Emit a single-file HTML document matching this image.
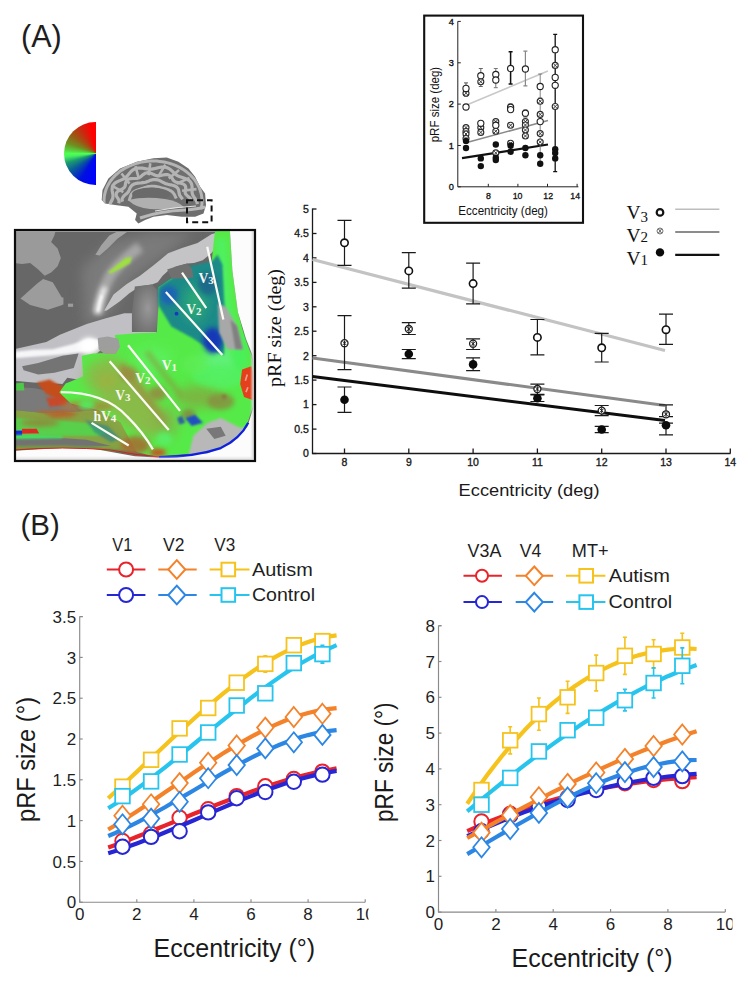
<!DOCTYPE html>
<html><head><meta charset="utf-8"><title>pRF figure</title>
<style>html,body{margin:0;padding:0;background:#fff;width:749px;height:985px;overflow:hidden;position:relative}svg{display:block} .s{font-family:"Liberation Sans",sans-serif} .r{font-family:"Liberation Serif",serif}</style>
</head><body>
<svg width="749" height="985" viewBox="0 0 749 985">
<rect width="749" height="985" fill="#fff"/>
<text x="21" y="47.4" class="s" font-size="30.6" fill="#1e1e1e">(A)</text>
<text x="20.4" y="535" class="s" font-size="29.5" fill="#1e1e1e">(B)</text>
<defs>
<clipPath id="fmclip"><rect x="0" y="0" width="749" height="721"/></clipPath>
<filter id="bl1" x="-30%" y="-30%" width="160%" height="160%"><feGaussianBlur stdDeviation="2.5"/></filter>
<filter id="bl2" x="-60%" y="-60%" width="220%" height="220%"><feGaussianBlur stdDeviation="8"/></filter>
<filter id="bl3" x="-100%" y="-100%" width="300%" height="300%"><feGaussianBlur stdDeviation="18"/></filter>
<radialGradient id="dpg" cx="0.6" cy="0.5" r="0.7"><stop offset="0" stop-color="#989898"/><stop offset="0.6" stop-color="#7a7a7a"/><stop offset="1" stop-color="#6a6a6a"/></radialGradient>
</defs>
<g transform="translate(14 229) scale(0.32310)" clip-path="url(#fmclip)">
<rect x="0" y="0" width="749" height="721" fill="#676767"/>
<path d="M210 120 L300 40 L420 10 L560 10 L470 80 L360 160 L300 260 L220 300 Z" fill="#7a7a7a" filter="url(#bl3)"/>
<path d="M0 0 L130 0 L125 20 L115 40 L135 60 L145 90 L135 115 L115 135 L95 145 L75 125 L50 105 L25 108 L0 105 Z" fill="#9a9a9a"/>
<path d="M20 215 L70 170 L90 155 L120 165 L150 215 L150 235 L105 250 L50 235 Z" fill="#9c9c9c"/>
<rect x="140" y="212" width="13" height="22" fill="#9c9c9c"/><rect x="167" y="231" width="16" height="10" fill="#9c9c9c"/>
<rect x="0" y="0" width="668" height="9" fill="#b0b0b0"/>
<path d="M252 80 L270 50 L295 20 L320 8 L352 8 L320 30 L290 60 L265 82 Z" fill="#a2a2a2"/>
<path d="M258 262 Q270 190 300 140 Q330 100 390 55" stroke="#a6a6a6" stroke-width="34" fill="none" filter="url(#bl2)"/>
<path d="M258 262 Q266 215 282 180" stroke="#ffffff" stroke-width="14" fill="none" filter="url(#bl2)"/><path d="M260 255 Q265 225 272 205" stroke="#ffffff" stroke-width="6" fill="none" filter="url(#bl1)"/>
<path d="M290 135 L320 110 L345 90 L365 86 L360 105 L335 120 L300 138 Z" fill="#9ee040" filter="url(#bl1)"/>
<path d="M640 8 L611 16 L568 43 L520 59 L477 75 L452 96 L432 112 L390 145 L349 170 L308 203 L279 253 L287 252 L328 224 L357 199 L390 177 L427 172 L445 165 L460 145 L477 129 L504 115 L536 107 L557 105 L584 97 L611 75 L645 30 Z" fill="#c4c4c6"/>
<path d="M365 261 L374 178 L427 172 L445 190 L447 274 L440 319 L365 319 Z" fill="url(#dpg)"/>
<path d="M0 372 L100 350 L142 327 L225 294 L279 278 L341 261 L365 261 L365 319 L440 319 L447 330 L330 332 L300 345 L240 400 L215 469 L165 460 L150 480 L60 475 L0 470 Z" fill="#bfbfc4"/>
<path d="M0 380 L60 374 L120 372 L180 357 L230 340 L265 342 L262 370 L230 378 L160 388 L80 394 L0 400 Z" fill="#f6f6f8" filter="url(#bl1)"/>
<ellipse cx="232" cy="362" rx="30" ry="26" fill="#ffffff" filter="url(#bl2)"/>
<path d="M25 425 L75 415 L150 392 L200 385 L185 430 L125 445 L75 450 L30 437 Z" fill="#747474"/>
<path d="M0 490 L60 492 L115 503 L175 540 L200 565 L100 570 L0 560 Z" fill="#7a7a7a"/>
<path d="M0 560 L100 570 L200 565 L260 560 L330 600 L400 690 L300 680 L0 650 Z" fill="#86a244"/>
<path d="M0 585 L120 590 L220 600 L300 625 L260 640 L150 640 L0 635 Z" fill="#58d04c" filter="url(#bl1)"/>
<path d="M60 560 L150 560 L200 575 L120 582 Z" fill="#b06a30" filter="url(#bl1)" opacity="0.7"/>
<path d="M70 475 L110 466 L150 488 L190 478 L235 498 L215 515 L170 530 L150 545 L125 522 L100 510 Z" fill="#c44e1c" filter="url(#bl1)"/>
<path d="M100 522 L150 520 L165 545 L110 550 Z" fill="#c8482a" filter="url(#bl1)"/>
<path d="M0 478 L30 476 L32 500 L0 500 Z" fill="#4ec848"/>
<path d="M25 618 L70 618 L78 633 L25 634 Z" fill="#e02828"/>
<path d="M0 624 L25 624 L25 640 L0 640 Z" fill="#1a28e0"/>
<path d="M0 648 L120 645 L225 652 L300 672 L150 676 L0 674 Z" fill="#727272"/>
<path d="M0 638 L60 636 L150 640 L150 648 L0 650 Z" fill="#40e060" filter="url(#bl1)"/>
<path d="M0 672 L150 670 L300 676 L380 690 L300 686 L150 682 L0 684 Z" fill="#7a9a40" filter="url(#bl1)"/>
<path d="M140 505 L160 478 L200 462 L214 456 L210 392 L245 385 L300 383 L318 360 L312 328 L380 323 L442 320 L447 240 L447 180 L487 153 L552 149 L609 127 L622 8 L668 0 L676 130 L693 258 L715 340 L735 390 L742 450 L740 548 L720 610 L675 659 L600 690 L449 704 L420 700 L380 690 L330 600 L260 560 L175 540 Z" fill="#56ea48"/>
<path d="M259 337 L290 333 L323 340 L328 365 L315 387 L280 387 L262 372 Z" fill="#9e9e9e"/>
<ellipse cx="430" cy="405" rx="60" ry="40" fill="#5cf05c" filter="url(#bl3)"/>
<ellipse cx="640" cy="420" rx="60" ry="60" fill="#60f078" filter="url(#bl3)"/>
<path d="M640 30 L660 250 L700 420" stroke="#50f060" stroke-width="30" fill="none" filter="url(#bl2)"/>
<path d="M230 420 L300 390 L360 430 L420 510 L480 600 L420 650 L330 600 L260 520 L215 470 Z" fill="#96b048" filter="url(#bl3)" opacity="0.8"/>
<path d="M330 420 L470 600" stroke="#a08840" stroke-width="22" fill="none" filter="url(#bl2)" opacity="0.7"/>
<path d="M410 380 L520 520" stroke="#8a9a40" stroke-width="18" fill="none" filter="url(#bl2)" opacity="0.6"/>
<ellipse cx="570" cy="520" rx="70" ry="35" fill="#8aa040" filter="url(#bl3)" opacity="0.7"/>
<ellipse cx="470" cy="600" rx="40" ry="50" fill="#8aa848" filter="url(#bl3)" opacity="0.6"/>
<circle cx="650" cy="520" r="8" fill="#806040" filter="url(#bl1)"/>
<ellipse cx="355" cy="449" rx="28" ry="22" fill="#9a8a40" opacity="0.8" filter="url(#bl2)"/>
<ellipse cx="445" cy="509" rx="28" ry="22" fill="#9a8440" opacity="0.8" filter="url(#bl2)"/>
<ellipse cx="640" cy="534" rx="42" ry="26" fill="#8a8a40" opacity="0.8" filter="url(#bl2)"/>
<ellipse cx="540" cy="574" rx="22" ry="16" fill="#8a7a40" opacity="0.8" filter="url(#bl2)"/>
<ellipse cx="225" cy="549" rx="80" ry="18" fill="#b07a38" opacity="0.7" filter="url(#bl2)"/>
<ellipse cx="375" cy="669" rx="45" ry="28" fill="#a86a30" opacity="0.85" filter="url(#bl2)"/>
<ellipse cx="445" cy="692" rx="26" ry="12" fill="#d83a20" opacity="0.9" filter="url(#bl2)"/>
<ellipse cx="225" cy="544" rx="25" ry="15" fill="#50f060" opacity="0.9" filter="url(#bl2)"/>
<ellipse cx="465" cy="649" rx="25" ry="20" fill="#58f068" opacity="0.9" filter="url(#bl2)"/>
<ellipse cx="635" cy="454" rx="85" ry="35" fill="#52f060" opacity="0.8" filter="url(#bl2)"/>
<ellipse cx="700" cy="380" rx="25" ry="60" fill="#48f058" opacity="0.8" filter="url(#bl2)"/>
<ellipse cx="560" cy="420" rx="40" ry="30" fill="#60ee58" opacity="0.6" filter="url(#bl2)"/>
<ellipse cx="290" cy="470" rx="30" ry="25" fill="#a0b040" opacity="0.6" filter="url(#bl2)"/>
<ellipse cx="80" cy="600" rx="60" ry="12" fill="#b06030" opacity="0.6" filter="url(#bl2)"/>
<ellipse cx="150" cy="575" rx="40" ry="10" fill="#c05828" opacity="0.6" filter="url(#bl2)"/>
<path d="M447 180 L487 153 L544 115 L613 100 L630 80 L645 110 L652 250 L650 390 L605 372 L552 337 L487 302 L447 236 Z" fill="#1c8a88" filter="url(#bl1)"/>
<ellipse cx="480" cy="205" rx="28" ry="30" fill="#1a64b4" filter="url(#bl2)"/>
<ellipse cx="615" cy="345" rx="30" ry="40" fill="#1438b8" filter="url(#bl2)"/>
<ellipse cx="560" cy="230" rx="35" ry="55" fill="#2aa878" filter="url(#bl3)"/>
<ellipse cx="600" cy="170" rx="30" ry="35" fill="#1a6a8a" filter="url(#bl2)"/>
<circle cx="503" cy="262" r="6" fill="#1838c0"/>
<path d="M474 125 L504 115 L536 107 L552 125 L555 150 L520 153 L487 153 Z" fill="#707070"/>
<path d="M421 171 L447 180 L447 320 L421 320 Z" fill="#8c8c8c" opacity="0.0"/>
<path d="M631 232 L655 240 L690 300 L708 372 L660 372 L635 320 Z" fill="#a8a8a8" filter="url(#bl1)"/>
<path d="M670 280 L690 300 L708 372 L685 372 Z" fill="#808080" filter="url(#bl1)"/>
<path d="M706 435 L735 425 L747 470 L740 530 L712 520 L700 480 Z" fill="#e4401c"/>
<path d="M722 450 L716 470 M724 490 L718 505" stroke="#f0a090" stroke-width="5"/>
<path d="M555 640 L600 600 L640 585 L700 615 L722 612 L675 662 L600 692 L540 702 Z" fill="#b8b8b8" filter="url(#bl1)"/>
<path d="M595 618 L640 612 L655 640 L620 650 Z" fill="#787878"/>
<path d="M530 585 L560 575 L585 600 L550 610 Z" fill="#2050c0" filter="url(#bl1)"/>
<path d="M505 585 L520 578 L530 600 L512 605 Z" fill="#3060a0" filter="url(#bl1)"/>
<path d="M220 590 L290 610 L330 650 L300 660 L250 630 Z" fill="#2a8090" filter="url(#bl1)" opacity="0.6"/>
<path d="M668 0 L749 0 L749 721 L0 721 L0 686 L150 678 L250 681 L374 703 L449 708 L600 694 L675 662 L722 612 L743 548 L745 450 L738 390 L718 340 L693 258 L676 130 Z" fill="#fcfcfc"/>
<path d="M449 706 Q560 705 640 678 Q700 650 725 600" stroke="#1020e0" stroke-width="7" fill="none"/>
<path d="M0 684 Q150 672 300 684 Q380 700 449 706" stroke="#d02020" stroke-width="3" fill="none"/>
<rect x="736" y="0" width="13" height="721" fill="#dadada" filter="url(#bl1)"/>
<rect x="0" y="708" width="749" height="13" fill="#e0e0e0" filter="url(#bl1)"/>
<path d="M598 55 L648 280 M520 135 L595 245 M470 195 L645 390 M353 360 L514 563 M296 409 L479 622 M240 600 L355 670" stroke="#fbfbf4" stroke-width="7" fill="none"/>
<path d="M145 505 Q280 505 350 580 Q400 630 430 682" stroke="#fbfbf4" stroke-width="7" fill="none"/>
<text x="571" y="168" class="r" font-size="42" font-weight="bold" fill="#f8f8f0">V<tspan font-size="34" dy="3">3</tspan></text>
<text x="533" y="263" class="r" font-size="42" font-weight="bold" fill="#f8f8f0">V<tspan font-size="34" dy="3">2</tspan></text>
<text x="457" y="437" class="r" font-size="42" font-weight="bold" fill="#f8f8f0">V<tspan font-size="34" dy="3">1</tspan></text>
<text x="375" y="476" class="r" font-size="42" font-weight="bold" fill="#f8f8f0">V<tspan font-size="34" dy="3">2</tspan></text>
<text x="313" y="528" class="r" font-size="42" font-weight="bold" fill="#f8f8f0">V<tspan font-size="34" dy="3">3</tspan></text>
<text x="246" y="594" class="r" font-size="42" font-weight="bold" fill="#f8f8f0">hV<tspan font-size="34" dy="3">4</tspan></text>
</g>
<rect x="15" y="230" width="240" height="231" fill="none" stroke="#0c0c0c" stroke-width="2.2"/>

<clipPath id="brclip"><path d="M101.7 200 L102.5 190 L108.4 178.4 L120 168.4 L136.7 161.7 L153.4 158.3 L166.8 157.5 L178.4 161.7 L188.5 168.4 L195.1 176.7 L200.1 186.7 L205.1 193.4 L206 205 L203.5 213.4 L195.1 216.8 L181.8 216.8 L166.8 215.1 L153.4 216.8 L145.1 220.1 L138.4 223.4 L135.1 220.1 L136.7 213.4 L128.4 206.7 L115 205 L105 203.4 Z"/></clipPath>
<path d="M101.7 200 L102.5 190 L108.4 178.4 L120 168.4 L136.7 161.7 L153.4 158.3 L166.8 157.5 L178.4 161.7 L188.5 168.4 L195.1 176.7 L200.1 186.7 L205.1 193.4 L206 205 L203.5 213.4 L195.1 216.8 L181.8 216.8 L166.8 215.1 L153.4 216.8 L145.1 220.1 L138.4 223.4 L135.1 220.1 L136.7 213.4 L128.4 206.7 L115 205 L105 203.4 Z" fill="#6e6e6e"/>
<g clip-path="url(#brclip)">
<path d="M104.7 207.9 L104.3 205.6 L104.1 203.3 L104.0 200.9 L104.1 198.6 L104.3 196.2 L104.8 193.9 L105.4 191.6 L106.1 189.3 L107.0 187.1 L108.1 184.9 L109.4 182.8 L110.7 180.8 L112.3 178.8 L113.9 176.9 L115.7 175.0 L117.7 173.3 L119.7 171.6 L121.9 170.1 L124.2 168.7 L126.6 167.3 L129.0 166.1 L131.6 165.0 L134.2 164.1 L136.9 163.2 L139.6 162.5 L142.4 161.9 L145.3 161.5 L148.1 161.2 L151.0 161.0 L153.9 161.0 L156.7 161.1 L159.6 161.4 L162.4 161.7 L165.2 162.3 L168.0 162.9 L170.7 163.7 L173.4 164.6 L176.0 165.7 L178.5 166.8 L180.9 168.1 L183.2 169.5 L185.4 171.0 L187.5 172.6 L189.5 174.3 L191.3 176.1 L193.1 178.0 L194.7 179.9 L196.1 182.0 L197.4 184.1 L198.5 186.2 L199.5 188.4 L200.3 190.7 L201.0 193.0 L201.5 195.3 L201.8 197.6 L202.0 200.0 L202.0 202.3 L201.8 204.7 L201.4 207.0 L200.9 209.3" stroke="#b4b4b4" stroke-width="3.0" fill="none" stroke-linejoin="round"/>
<path d="M109.5 205.8 L110.1 203.8 L111.0 201.9 L112.0 200.1 L112.7 198.3 L113.0 196.5 L112.9 194.7 L112.6 192.8 L112.2 190.7 L112.1 188.7 L112.5 186.7 L113.4 184.8 L114.9 183.2 L116.9 181.9 L119.1 180.9 L121.4 179.9 L123.5 179.0 L125.3 177.8 L126.8 176.5 L128.2 174.9 L129.5 173.2 L131.0 171.5 L132.8 170.0 L134.8 168.9 L137.2 168.2 L139.8 168.0 L142.4 168.2 L144.9 168.6 L147.3 169.0 L149.7 169.2 L151.9 169.1 L154.2 168.7 L156.6 168.1 L159.1 167.5 L161.7 167.1 L164.2 167.1 L166.6 167.5 L168.8 168.5 L170.8 169.8 L172.5 171.4 L174.1 173.0 L175.6 174.4 L177.4 175.6 L179.3 176.5 L181.6 177.3 L183.9 178.1 L186.3 178.9 L188.5 180.1 L190.2 181.5 L191.3 183.3 L191.9 185.3 L192.1 187.3 L192.0 189.4 L192.0 191.3 L192.2 193.1 L192.7 194.9 L193.7 196.6 L194.9 198.3 L196.1 200.2 L197.0 202.1 L197.4 204.1" stroke="#b4b4b4" stroke-width="3.2" fill="none" stroke-linejoin="round"/>
<path d="M118.6 203.3 L119.1 201.9 L119.0 200.5 L118.4 199.1 L117.4 197.6 L116.5 196.0 L116.1 194.4 L116.5 192.8 L117.6 191.5 L119.4 190.4 L121.3 189.5 L123.0 188.6 L124.3 187.6 L125.0 186.3 L125.4 184.7 L125.6 183.0 L126.2 181.3 L127.2 179.9 L128.8 179.0 L130.9 178.6 L133.2 178.5 L135.5 178.5 L137.5 178.3 L139.2 177.8 L140.6 176.8 L142.0 175.6 L143.6 174.3 L145.3 173.2 L147.3 172.7 L149.3 172.8 L151.4 173.5 L153.4 174.4 L155.2 175.3 L157.0 175.8 L158.8 175.8 L160.8 175.5 L163.0 175.0 L165.2 174.6 L167.4 174.6 L169.2 175.2 L170.8 176.3 L171.9 177.8 L172.8 179.4 L173.8 180.7 L175.1 181.7 L176.7 182.4 L178.8 182.9 L181.0 183.3 L183.1 184.0 L184.7 185.0 L185.5 186.4 L185.8 188.1 L185.5 189.8 L185.2 191.5 L185.2 192.9 L185.7 194.2 L186.9 195.4 L188.4 196.7 L189.9 198.0 L190.9 199.5 L191.1 201.0" stroke="#b4b4b4" stroke-width="3.2" fill="none" stroke-linejoin="round"/>
<path d="M122.7 201.7 L122.2 200.6 L122.1 199.5 L122.3 198.4 L122.8 197.4 L123.6 196.4 L124.5 195.4 L125.5 194.6 L126.5 193.7 L127.4 192.9 L128.1 192.0 L128.7 191.1 L129.2 190.1 L129.6 189.0 L130.1 187.9 L130.6 186.9 L131.4 185.9 L132.4 185.0 L133.6 184.3 L135.0 183.7 L136.5 183.3 L138.1 183.1 L139.7 183.0 L141.3 182.9 L142.8 182.7 L144.2 182.5 L145.6 182.2 L146.9 181.7 L148.3 181.2 L149.7 180.6 L151.2 180.1 L152.7 179.7 L154.3 179.6 L155.9 179.6 L157.4 179.8 L158.9 180.3 L160.3 180.9 L161.6 181.6 L162.9 182.3 L164.1 182.9 L165.3 183.5 L166.6 183.9 L168.0 184.3 L169.4 184.6 L171.0 184.9 L172.5 185.2 L174.1 185.7 L175.4 186.3 L176.6 187.0 L177.5 188.0 L178.2 189.0 L178.6 190.1 L178.8 191.2 L179.0 192.3 L179.2 193.4 L179.4 194.4 L179.8 195.4 L180.4 196.3 L181.1 197.2 L181.9 198.2 L182.7 199.2" stroke="#b4b4b4" stroke-width="3.2" fill="none" stroke-linejoin="round"/>
<path d="M129.1 201.0 L129.3 200.3 L129.5 199.6 L129.7 198.9 L129.9 198.2 L130.1 197.5 L130.4 196.8 L130.6 196.1 L130.9 195.4 L131.2 194.7 L131.6 194.0 L132.1 193.4 L132.7 192.7 L133.4 192.1 L134.2 191.6 L135.1 191.1 L136.0 190.6 L137.0 190.2 L138.0 189.8 L139.0 189.4 L140.0 189.1 L141.1 188.7 L142.1 188.4 L143.1 188.1 L144.1 187.8 L145.2 187.4 L146.3 187.1 L147.4 186.8 L148.5 186.6 L149.7 186.4 L150.9 186.3 L152.1 186.2 L153.3 186.2 L154.5 186.3 L155.7 186.5 L156.8 186.6 L158.0 186.9 L159.1 187.1 L160.2 187.4 L161.2 187.7 L162.3 188.0 L163.4 188.2 L164.5 188.5 L165.5 188.8 L166.6 189.1 L167.7 189.5 L168.7 189.8 L169.7 190.3 L170.6 190.7 L171.4 191.3 L172.2 191.8 L172.8 192.4 L173.4 193.1 L173.9 193.8 L174.3 194.4 L174.7 195.1 L175.0 195.8 L175.3 196.5 L175.6 197.2 L176.0 197.8 L176.3 198.5" stroke="#b4b4b4" stroke-width="3.0" fill="none" stroke-linejoin="round"/>
<path d="M123.3 192.1 L111.3 185.3 M129.5 183.6 L121.5 173.5 M138.6 177.8 L135.5 166.1 M148.6 175.2 L150.3 163.3 M159.0 175.4 L165.3 164.6 M168.8 178.4 L179.1 169.9 M176.5 183.6 L189.5 178.0 M182.1 190.8 L196.5 189.1" stroke="#b4b4b4" stroke-width="2.6" fill="none"/>
</g>
<ellipse cx="151" cy="194" rx="19" ry="6.5" fill="#6a6a6a"/>
<path d="M128 200 Q145 196 165 199 Q178 201 184 207 Q170 210 150 209 Q136 208 128 200 Z" fill="#b0b0b0"/>
<path d="M140 218 Q160 211 185 210 Q198 209 205 207" stroke="#b8b8b8" stroke-width="3" fill="none"/>
<path d="M155 211 Q175 207 196 206" stroke="#e4e4e4" stroke-width="1.1" fill="none"/>
<rect x="187" y="200.2" width="24.6" height="22" fill="none" stroke="#111" stroke-width="2" stroke-dasharray="6 4"/>
<rect x="424.2" y="15.6" width="158.8" height="207.2" fill="#fff" stroke="#111" stroke-width="2.1"/>
<g stroke="#222" stroke-width="1" fill="none">
<path d="M457.8 21.4 V186.8 H578.4"/>
<path d="M457.8 186.8 h3"/>
<path d="M457.8 145.5 h3"/>
<path d="M457.8 104.1 h3"/>
<path d="M457.8 62.8 h3"/>
<path d="M457.8 21.4 h3"/>
<path d="M488.3 186.8 v-3"/>
<path d="M517.9 186.8 v-3"/>
<path d="M547.5 186.8 v-3"/>
<path d="M577.1 186.8 v-3"/>
</g>
<g class="s" font-size="9.2" fill="#111" stroke="#111" stroke-width="0.35" text-anchor="end">
<text x="453.8" y="190.1">0</text>
<text x="453.8" y="148.8">1</text>
<text x="453.8" y="107.4">2</text>
<text x="453.8" y="66">3</text>
<text x="453.8" y="24.7">4</text>
</g>
<g class="s" font-size="8.8" fill="#111" stroke="#111" stroke-width="0.3" text-anchor="middle">
<text x="488.4" y="198.6">8</text>
<text x="517.6" y="198.6">10</text>
<text x="548.2" y="198.6">12</text>
<text x="575.2" y="198.6">14</text>
</g>
<text x="458.3" y="214.9" class="s" font-size="12" fill="#111" textLength="89.6" lengthAdjust="spacingAndGlyphs">Eccentricity (deg)</text>
<text transform="translate(439 142.3) rotate(-90)" class="s" font-size="12" fill="#111" textLength="75.5" lengthAdjust="spacingAndGlyphs">pRF size (deg)</text>
<path d="M466.7 105 L547.9 70.9" stroke="#c8c8c8" stroke-width="1.6"/>
<path d="M466 142.8 L548 120.4" stroke="#8a8a8a" stroke-width="1.6"/>
<path d="M462 158.2 L548 144.5" stroke="#111" stroke-width="2.2"/>
<path d="M466 82.9 V96 M464 82.9 h4 M464 96 h4" stroke="#555" stroke-width="1" fill="none"/>
<path d="M480.8 68.5 V86.5 M478.8 68.5 h4 M478.8 86.5 h4" stroke="#666" stroke-width="1" fill="none"/>
<path d="M495.8 68.5 V87.7 M493.8 68.5 h4 M493.8 87.7 h4" stroke="#777" stroke-width="1" fill="none"/>
<path d="M510.6 51.7 V84.1 M508.6 51.7 h4 M508.6 84.1 h4" stroke="#111" stroke-width="1.5" fill="none"/>
<path d="M525.4 51.2 V85.8 M523.4 51.2 h4 M523.4 85.8 h4" stroke="#888" stroke-width="1.2" fill="none"/>
<path d="M540.2 74 V165 M538.2 74 h4 M538.2 165 h4" stroke="#777" stroke-width="0.9" fill="none"/>
<path d="M555.2 34.4 V171.6 M553.2 34.4 h4 M553.2 171.6 h4" stroke="#111" stroke-width="1.3" fill="none"/>
<path d="M510.6 104 V111 M508.6 104 h4 M508.6 111 h4" stroke="#333" stroke-width="1" fill="none"/>
<path d="M525.4 110 V117 M523.4 110 h4 M523.4 117 h4" stroke="#555" stroke-width="1" fill="none"/>
<path d="M540.2 98 V103 M538.2 98 h4 M538.2 103 h4" stroke="#666" stroke-width="1" fill="none"/>
<circle cx="466" cy="93.2" r="3" fill="#fff" stroke="#2a2a2a" stroke-width="1.1"/><path d="M464.2 91.4 l3.6 3.6 M467.8 91.4 l-3.6 3.6" stroke="#2a2a2a" stroke-width="0.9"/>
<circle cx="480.8" cy="81.7" r="3" fill="#fff" stroke="#2a2a2a" stroke-width="1.1"/><path d="M479 79.9 l3.6 3.6 M482.6 79.9 l-3.6 3.6" stroke="#2a2a2a" stroke-width="0.9"/>
<circle cx="466" cy="127.6" r="3" fill="#fff" stroke="#2a2a2a" stroke-width="1.1"/><path d="M464.2 125.8 l3.6 3.6 M467.8 125.8 l-3.6 3.6" stroke="#2a2a2a" stroke-width="0.9"/>
<circle cx="466" cy="131.5" r="3" fill="#fff" stroke="#2a2a2a" stroke-width="1.1"/><path d="M464.2 129.7 l3.6 3.6 M467.8 129.7 l-3.6 3.6" stroke="#2a2a2a" stroke-width="0.9"/>
<circle cx="466" cy="134" r="3" fill="#fff" stroke="#2a2a2a" stroke-width="1.1"/><path d="M464.2 132.2 l3.6 3.6 M467.8 132.2 l-3.6 3.6" stroke="#2a2a2a" stroke-width="0.9"/>
<circle cx="480.8" cy="127.6" r="3" fill="#fff" stroke="#2a2a2a" stroke-width="1.1"/><path d="M479 125.8 l3.6 3.6 M482.6 125.8 l-3.6 3.6" stroke="#2a2a2a" stroke-width="0.9"/>
<circle cx="480.8" cy="132.4" r="3" fill="#fff" stroke="#2a2a2a" stroke-width="1.1"/><path d="M479 130.6 l3.6 3.6 M482.6 130.6 l-3.6 3.6" stroke="#2a2a2a" stroke-width="0.9"/>
<circle cx="495.8" cy="121.6" r="3" fill="#fff" stroke="#2a2a2a" stroke-width="1.1"/><path d="M494 119.8 l3.6 3.6 M497.6 119.8 l-3.6 3.6" stroke="#2a2a2a" stroke-width="0.9"/>
<circle cx="495.8" cy="131.2" r="3" fill="#fff" stroke="#2a2a2a" stroke-width="1.1"/><path d="M494 129.4 l3.6 3.6 M497.6 129.4 l-3.6 3.6" stroke="#2a2a2a" stroke-width="0.9"/>
<circle cx="510.6" cy="125.2" r="3" fill="#fff" stroke="#2a2a2a" stroke-width="1.1"/><path d="M508.8 123.4 l3.6 3.6 M512.4 123.4 l-3.6 3.6" stroke="#2a2a2a" stroke-width="0.9"/>
<circle cx="525.4" cy="121.6" r="3" fill="#fff" stroke="#2a2a2a" stroke-width="1.1"/><path d="M523.6 119.8 l3.6 3.6 M527.2 119.8 l-3.6 3.6" stroke="#2a2a2a" stroke-width="0.9"/>
<circle cx="525.4" cy="125" r="3" fill="#fff" stroke="#2a2a2a" stroke-width="1.1"/><path d="M523.6 123.2 l3.6 3.6 M527.2 123.2 l-3.6 3.6" stroke="#2a2a2a" stroke-width="0.9"/>
<circle cx="525.4" cy="130" r="3" fill="#fff" stroke="#2a2a2a" stroke-width="1.1"/><path d="M523.6 128.2 l3.6 3.6 M527.2 128.2 l-3.6 3.6" stroke="#2a2a2a" stroke-width="0.9"/>
<circle cx="525.4" cy="136" r="3" fill="#fff" stroke="#2a2a2a" stroke-width="1.1"/><path d="M523.6 134.2 l3.6 3.6 M527.2 134.2 l-3.6 3.6" stroke="#2a2a2a" stroke-width="0.9"/>
<circle cx="540.2" cy="101.2" r="3" fill="#fff" stroke="#2a2a2a" stroke-width="1.1"/><path d="M538.4 99.4 l3.6 3.6 M542 99.4 l-3.6 3.6" stroke="#2a2a2a" stroke-width="0.9"/>
<circle cx="540.2" cy="114.4" r="3" fill="#fff" stroke="#2a2a2a" stroke-width="1.1"/><path d="M538.4 112.6 l3.6 3.6 M542 112.6 l-3.6 3.6" stroke="#2a2a2a" stroke-width="0.9"/>
<circle cx="540.2" cy="133.6" r="3" fill="#fff" stroke="#2a2a2a" stroke-width="1.1"/><path d="M538.4 131.8 l3.6 3.6 M542 131.8 l-3.6 3.6" stroke="#2a2a2a" stroke-width="0.9"/>
<circle cx="540.2" cy="142" r="3" fill="#fff" stroke="#2a2a2a" stroke-width="1.1"/><path d="M538.4 140.2 l3.6 3.6 M542 140.2 l-3.6 3.6" stroke="#2a2a2a" stroke-width="0.9"/>
<circle cx="555.2" cy="65.4" r="3" fill="#fff" stroke="#2a2a2a" stroke-width="1.1"/><path d="M553.4 63.6 l3.6 3.6 M557 63.6 l-3.6 3.6" stroke="#2a2a2a" stroke-width="0.9"/>
<circle cx="555.2" cy="106.5" r="3" fill="#fff" stroke="#2a2a2a" stroke-width="1.1"/><path d="M553.4 104.7 l3.6 3.6 M557 104.7 l-3.6 3.6" stroke="#2a2a2a" stroke-width="0.9"/>
<circle cx="495.8" cy="152.9" r="3" fill="#fff" stroke="#2a2a2a" stroke-width="1.1"/><path d="M494 151.1 l3.6 3.6 M497.6 151.1 l-3.6 3.6" stroke="#2a2a2a" stroke-width="0.9"/>
<circle cx="510.6" cy="143.3" r="3" fill="#fff" stroke="#2a2a2a" stroke-width="1.1"/><path d="M508.8 141.5 l3.6 3.6 M512.4 141.5 l-3.6 3.6" stroke="#2a2a2a" stroke-width="0.9"/>
<circle cx="466" cy="138.5" r="3" fill="#fff" stroke="#2a2a2a" stroke-width="1.1"/><path d="M464.2 136.7 l3.6 3.6 M467.8 136.7 l-3.6 3.6" stroke="#2a2a2a" stroke-width="0.9"/>
<circle cx="466" cy="88.4" r="3.1" fill="#fff" stroke="#222" stroke-width="1.1"/>
<circle cx="466" cy="107" r="3.1" fill="#fff" stroke="#222" stroke-width="1.1"/>
<circle cx="480.8" cy="75.7" r="3.1" fill="#fff" stroke="#222" stroke-width="1.1"/>
<circle cx="495.8" cy="74.5" r="3.1" fill="#fff" stroke="#222" stroke-width="1.1"/>
<circle cx="495.8" cy="80" r="3.1" fill="#fff" stroke="#222" stroke-width="1.1"/>
<circle cx="510.6" cy="68.5" r="3.1" fill="#fff" stroke="#222" stroke-width="1.1"/>
<circle cx="525.4" cy="69" r="3.1" fill="#fff" stroke="#222" stroke-width="1.1"/>
<circle cx="540.2" cy="86.5" r="3.1" fill="#fff" stroke="#222" stroke-width="1.1"/>
<circle cx="555.2" cy="49.7" r="3.1" fill="#fff" stroke="#222" stroke-width="1.1"/>
<circle cx="555.2" cy="77.4" r="3.1" fill="#fff" stroke="#222" stroke-width="1.1"/>
<circle cx="555.2" cy="85.3" r="3.1" fill="#fff" stroke="#222" stroke-width="1.1"/>
<circle cx="480.8" cy="123.3" r="3.1" fill="#fff" stroke="#222" stroke-width="1.1"/>
<circle cx="495.8" cy="125.2" r="3.1" fill="#fff" stroke="#222" stroke-width="1.1"/>
<circle cx="510.6" cy="107.2" r="3.1" fill="#fff" stroke="#222" stroke-width="1.1"/>
<circle cx="525.4" cy="113.2" r="3.1" fill="#fff" stroke="#222" stroke-width="1.1"/>
<circle cx="540.2" cy="121.6" r="3.1" fill="#fff" stroke="#222" stroke-width="1.1"/>
<circle cx="510.6" cy="109.6" r="3.1" fill="#fff" stroke="#222" stroke-width="1.1"/>
<circle cx="466" cy="140.9" r="3.2" fill="#111"/>
<circle cx="466" cy="148" r="3.2" fill="#111"/>
<circle cx="480.8" cy="158.4" r="3.2" fill="#111"/>
<circle cx="480.8" cy="166.1" r="3.2" fill="#111"/>
<circle cx="495.8" cy="144.5" r="3.2" fill="#111"/>
<circle cx="495.8" cy="157.7" r="3.2" fill="#111"/>
<circle cx="495.8" cy="160" r="3.2" fill="#111"/>
<circle cx="510.6" cy="145.7" r="3.2" fill="#111"/>
<circle cx="510.6" cy="151.7" r="3.2" fill="#111"/>
<circle cx="525.4" cy="148" r="3.2" fill="#111"/>
<circle cx="525.4" cy="155.3" r="3.2" fill="#111"/>
<circle cx="540.2" cy="155.3" r="3.2" fill="#111"/>
<circle cx="540.2" cy="163.7" r="3.2" fill="#111"/>
<circle cx="555.2" cy="149.3" r="3.2" fill="#111"/>
<circle cx="555.2" cy="152.9" r="3.2" fill="#111"/>
<circle cx="555.2" cy="158.4" r="3.2" fill="#111"/>
<g stroke="#1a1a1a" stroke-width="1.3" fill="none">
<path d="M312.5 208.5 V453.5 H730.5"/>
<path d="M312.5 453.5 h4"/>
<path d="M312.5 429.1 h4"/>
<path d="M312.5 404.6 h4"/>
<path d="M312.5 380.1 h4"/>
<path d="M312.5 355.7 h4"/>
<path d="M312.5 331.2 h4"/>
<path d="M312.5 306.8 h4"/>
<path d="M312.5 282.4 h4"/>
<path d="M312.5 257.9 h4"/>
<path d="M312.5 233.5 h4"/>
<path d="M312.5 209 h4"/>
<path d="M344.5 453.5 v-5"/>
<path d="M408.8 453.5 v-5"/>
<path d="M473.1 453.5 v-5"/>
<path d="M537.4 453.5 v-5"/>
<path d="M601.7 453.5 v-5"/>
<path d="M666 453.5 v-5"/>
<path d="M730.3 453.5 v-5"/>
</g>
<g class="s" font-size="10.5" fill="#1a1a1a" stroke="#1a1a1a" stroke-width="0.35" text-anchor="end">
<text x="308.8" y="457.3">0</text>
<text x="308.8" y="432.9">0.5</text>
<text x="308.8" y="408.4">1</text>
<text x="308.8" y="383.9">1.5</text>
<text x="308.8" y="359.5">2</text>
<text x="308.8" y="335.1">2.5</text>
<text x="308.8" y="310.6">3</text>
<text x="308.8" y="286.2">3.5</text>
<text x="308.8" y="261.7">4</text>
<text x="308.8" y="237.3">4.5</text>
<text x="308.8" y="212.8">5</text>
</g>
<g class="s" font-size="10.5" fill="#1a1a1a" stroke="#1a1a1a" stroke-width="0.35" text-anchor="middle">
<text x="344.5" y="466">8</text>
<text x="408.8" y="466">9</text>
<text x="473.1" y="466">10</text>
<text x="537.4" y="466">11</text>
<text x="601.7" y="466">12</text>
<text x="666" y="466">13</text>
<text x="730.3" y="466">14</text>
</g>
<path d="M312.5 259.5 L665 350.5" stroke="#c3c3c3" stroke-width="3.2"/>
<path d="M312.5 358 L665 405.5" stroke="#8a8a8a" stroke-width="3"/>
<path d="M312.5 376.5 L665 420.5" stroke="#0e0e0e" stroke-width="3"/>
<g stroke="#1a1a1a" stroke-width="1.2" fill="none">
<path d="M344.5 220.4 V265.4 M337.5 220.4 h14 M337.5 265.4 h14"/>
<path d="M408.8 252.6 V288.2 M401.8 252.6 h14 M401.8 288.2 h14"/>
<path d="M473.1 263.2 V303.8 M466.1 263.2 h14 M466.1 303.8 h14"/>
<path d="M537.4 319.5 V354.8 M530.4 319.5 h14 M530.4 354.8 h14"/>
<path d="M601.7 333.4 V362 M594.7 333.4 h14 M594.7 362 h14"/>
<path d="M666 314.2 V344.4 M659 314.2 h14 M659 344.4 h14"/>
<path d="M344.5 315.6 V369.7 M337.5 315.6 h14 M337.5 369.7 h14"/>
<path d="M408.8 322.6 V334.5 M401.8 322.6 h14 M401.8 334.5 h14"/>
<path d="M473.1 338.9 V349.5 M466.1 338.9 h14 M466.1 349.5 h14"/>
<path d="M537.4 384.1 V394.3 M530.4 384.1 h14 M530.4 394.3 h14"/>
<path d="M601.7 405.5 V415.6 M594.7 405.5 h14 M594.7 415.6 h14"/>
<path d="M666 404.9 V416.6 M659 404.9 h14 M659 416.6 h14"/>
<path d="M344.5 387 V412.4 M337.5 387 h14 M337.5 412.4 h14"/>
<path d="M408.8 349.5 V358.6 M401.8 349.5 h14 M401.8 358.6 h14"/>
<path d="M473.1 357.9 V370.6 M466.1 357.9 h14 M466.1 370.6 h14"/>
<path d="M537.4 395 V401.5 M530.4 395 h14 M530.4 401.5 h14"/>
<path d="M601.7 426.3 V432.7 M594.7 426.3 h14 M594.7 432.7 h14"/>
<path d="M666 423.2 V434.8 M659 423.2 h14 M659 434.8 h14"/>
</g>
<circle cx="344.5" cy="242.8" r="3.7" fill="#fff" stroke="#111" stroke-width="1.6"/>
<circle cx="408.8" cy="270.9" r="3.7" fill="#fff" stroke="#111" stroke-width="1.6"/>
<circle cx="473.1" cy="283.6" r="3.7" fill="#fff" stroke="#111" stroke-width="1.6"/>
<circle cx="537.4" cy="337.4" r="3.7" fill="#fff" stroke="#111" stroke-width="1.6"/>
<circle cx="601.7" cy="347.8" r="3.7" fill="#fff" stroke="#111" stroke-width="1.6"/>
<circle cx="666" cy="329.7" r="3.7" fill="#fff" stroke="#111" stroke-width="1.6"/>
<circle cx="344.5" cy="343.2" r="3.5" fill="#fff" stroke="#1c1c1c" stroke-width="1.3"/>
<path d="M342.5 341.2 l4 4 M346.5 341.2 l-4 4 M344.5 340.6 v5.2" stroke="#1c1c1c" stroke-width="1"/>
<circle cx="408.8" cy="329" r="3.5" fill="#fff" stroke="#1c1c1c" stroke-width="1.3"/>
<path d="M406.8 327 l4 4 M410.8 327 l-4 4 M408.8 326.4 v5.2" stroke="#1c1c1c" stroke-width="1"/>
<circle cx="473.1" cy="343.7" r="3.5" fill="#fff" stroke="#1c1c1c" stroke-width="1.3"/>
<path d="M471.1 341.7 l4 4 M475.1 341.7 l-4 4 M473.1 341.1 v5.2" stroke="#1c1c1c" stroke-width="1"/>
<circle cx="537.4" cy="389" r="3.5" fill="#fff" stroke="#1c1c1c" stroke-width="1.3"/>
<path d="M535.4 387 l4 4 M539.4 387 l-4 4 M537.4 386.4 v5.2" stroke="#1c1c1c" stroke-width="1"/>
<circle cx="601.7" cy="410.6" r="3.5" fill="#fff" stroke="#1c1c1c" stroke-width="1.3"/>
<path d="M599.7 408.6 l4 4 M603.7 408.6 l-4 4 M601.7 408 v5.2" stroke="#1c1c1c" stroke-width="1"/>
<circle cx="666" cy="414.3" r="3.5" fill="#fff" stroke="#1c1c1c" stroke-width="1.3"/>
<path d="M664 412.3 l4 4 M668 412.3 l-4 4 M666 411.7 v5.2" stroke="#1c1c1c" stroke-width="1"/>
<circle cx="344.5" cy="399.7" r="4.3" fill="#0a0a0a"/>
<circle cx="408.8" cy="354" r="4.3" fill="#0a0a0a"/>
<circle cx="473.1" cy="364.4" r="4.3" fill="#0a0a0a"/>
<circle cx="537.4" cy="398.3" r="4.3" fill="#0a0a0a"/>
<circle cx="601.7" cy="429.5" r="4.3" fill="#0a0a0a"/>
<circle cx="666" cy="425.3" r="4.3" fill="#0a0a0a"/>
<text x="458.6" y="496" class="s" font-size="17" fill="#1a1a1a" textLength="141" lengthAdjust="spacingAndGlyphs">Eccentricity (deg)</text>
<text transform="translate(281 387) rotate(-90)" x="0" y="0" class="r" font-size="18" fill="#111" textLength="118" lengthAdjust="spacingAndGlyphs">pRF size (deg)</text>
<g class="r" fill="#111">
<text x="626.5" y="219.4" font-size="19.5">V<tspan font-size="15" dy="2.5">3</tspan></text>
<text x="626.5" y="242.3" font-size="19.5">V<tspan font-size="15" dy="0">2</tspan></text>
<text x="626.5" y="265.1" font-size="19.5">V<tspan font-size="15" dy="0">1</tspan></text>
</g>
<circle cx="660" cy="212.4" r="3.3" fill="#fff" stroke="#111" stroke-width="2.2"/>
<circle cx="660" cy="231" r="3" fill="#fff" stroke="#777" stroke-width="1"/><path d="M658 229 l4 4 M662 229 l-4 4 M660 228.4 v5.2" stroke="#666" stroke-width="0.8"/>
<circle cx="660" cy="252.4" r="4.2" fill="#0a0a0a"/>
<path d="M675.2 209.2 H719.4" stroke="#bdbdbd" stroke-width="1.4"/>
<path d="M675.2 232 H719.4" stroke="#8c8c8c" stroke-width="1.8"/>
<path d="M675.2 254.9 H719.4" stroke="#111" stroke-width="2.2"/>
<g stroke="#8a8a8a" stroke-width="1.15" fill="none">
<path d="M79.7 616.6 V902.2 H365.2"/>
<path d="M79.7 902.2 h3"/>
<path d="M79.7 861.4 h3"/>
<path d="M79.7 820.6 h3"/>
<path d="M79.7 779.8 h3"/>
<path d="M79.7 739 h3"/>
<path d="M79.7 698.2 h3"/>
<path d="M79.7 657.4 h3"/>
<path d="M79.7 616.6 h3"/>
<path d="M79.7 902.2 v-3"/>
<path d="M136.8 902.2 v-3"/>
<path d="M193.9 902.2 v-3"/>
<path d="M251 902.2 v-3"/>
<path d="M308.1 902.2 v-3"/>
<path d="M365.2 902.2 v-3"/>
<path d="M79.7 616.6 h3"/>
</g>
<g class="s" font-size="17" fill="#1e1e1e" text-anchor="end">
<text x="76.1" y="908.3">0</text>
<text x="76.1" y="867.5">0.5</text>
<text x="76.1" y="826.7">1</text>
<text x="76.1" y="785.9">1.5</text>
<text x="76.1" y="745.1">2</text>
<text x="76.1" y="704.3">2.5</text>
<text x="76.1" y="663.5">3</text>
<text x="76.1" y="622.7">3.5</text>
</g>
<g class="s" font-size="17" fill="#1e1e1e" text-anchor="middle">
<text x="79.7" y="920.4">0</text>
<text x="136.8" y="920.4">2</text>
<text x="193.9" y="920.4">4</text>
<text x="251" y="920.4">6</text>
<text x="308.1" y="920.4">8</text>
</g>
<svg x="345.2" y="902.2" width="23.3" height="30" overflow="hidden"><text x="20" y="18.2" class="s" font-size="17" fill="#1e1e1e" text-anchor="middle">10</text></svg>
<path d="M108.2 847.5 L115.4 844.9 L122.5 842.3 L129.7 839.6 L136.8 836.8 L143.9 834 L151.1 831.2 L158.2 828.3 L165.4 825.4 L172.5 822.5 L179.6 819.6 L186.8 816.7 L193.9 813.8 L201 811 L208.2 808.1 L215.3 805.3 L222.4 802.5 L229.6 799.7 L236.7 797 L243.9 794.4 L251 791.8 L258.1 789.3 L265.3 786.8 L272.4 784.5 L279.6 782.2 L286.7 780.1 L293.8 778 L301 776.1 L308.1 774.3 L315.2 772.6 L322.4 771.1 L329.5 769.7 L336.6 768.4" stroke="#e8232b" stroke-width="4.2" fill="none" stroke-linejoin="round"/>
<circle cx="122.5" cy="841" r="7.2" fill="#fff" stroke="#e8232b" stroke-width="2"/>
<circle cx="151.1" cy="833.7" r="7.2" fill="#fff" stroke="#e8232b" stroke-width="2"/>
<circle cx="179.6" cy="817.7" r="7.2" fill="#fff" stroke="#e8232b" stroke-width="2"/>
<circle cx="208.2" cy="809.2" r="7.2" fill="#fff" stroke="#e8232b" stroke-width="2"/>
<circle cx="236.7" cy="796.1" r="7.2" fill="#fff" stroke="#e8232b" stroke-width="2"/>
<circle cx="265.3" cy="786.3" r="7.2" fill="#fff" stroke="#e8232b" stroke-width="2"/>
<circle cx="293.8" cy="779" r="7.2" fill="#fff" stroke="#e8232b" stroke-width="2"/>
<circle cx="322.4" cy="771.6" r="7.2" fill="#fff" stroke="#e8232b" stroke-width="2"/>
<path d="M108.2 853.2 L115.4 851 L122.5 848.6 L129.7 846.1 L136.8 843.5 L143.9 840.8 L151.1 838.1 L158.2 835.2 L165.4 832.3 L172.5 829.3 L179.6 826.3 L186.8 823.2 L193.9 820.2 L201 817.1 L208.2 814 L215.3 810.9 L222.4 807.9 L229.6 804.8 L236.7 801.9 L243.9 798.9 L251 796.1 L258.1 793.3 L265.3 790.6 L272.4 788 L279.6 785.5 L286.7 783.1 L293.8 780.9 L301 778.8 L308.1 776.9 L315.2 775.1 L322.4 773.5 L329.5 772.1 L336.6 770.9" stroke="#2626d4" stroke-width="4.2" fill="none" stroke-linejoin="round"/>
<circle cx="122.5" cy="846.7" r="7.2" fill="#fff" stroke="#2626d4" stroke-width="2"/>
<circle cx="151.1" cy="836.9" r="7.2" fill="#fff" stroke="#2626d4" stroke-width="2"/>
<circle cx="179.6" cy="831.2" r="7.2" fill="#fff" stroke="#2626d4" stroke-width="2"/>
<circle cx="208.2" cy="812.4" r="7.2" fill="#fff" stroke="#2626d4" stroke-width="2"/>
<circle cx="236.7" cy="798.2" r="7.2" fill="#fff" stroke="#2626d4" stroke-width="2"/>
<circle cx="265.3" cy="792" r="7.2" fill="#fff" stroke="#2626d4" stroke-width="2"/>
<circle cx="293.8" cy="781.8" r="7.2" fill="#fff" stroke="#2626d4" stroke-width="2"/>
<circle cx="322.4" cy="774.6" r="7.2" fill="#fff" stroke="#2626d4" stroke-width="2"/>
<path d="M108.2 829.5 L115.4 825.2 L122.5 820.7 L129.7 816.1 L136.8 811.5 L143.9 806.7 L151.1 801.9 L158.2 797 L165.4 792.1 L172.5 787.2 L179.6 782.3 L186.8 777.4 L193.9 772.6 L201 767.8 L208.2 763 L215.3 758.4 L222.4 753.8 L229.6 749.4 L236.7 745.1 L243.9 740.9 L251 736.9 L258.1 733.1 L265.3 729.5 L272.4 726.1 L279.6 723 L286.7 720 L293.8 717.4 L301 715 L308.1 713 L315.2 711.2 L322.4 709.8 L329.5 708.8 L336.6 708.1" stroke="#f4822a" stroke-width="4.2" fill="none" stroke-linejoin="round"/>
<path d="M122.5 805.7 L130.7 815.7 L122.5 825.7 L114.3 815.7 Z" fill="#fff" stroke="#f4822a" stroke-width="1.8"/>
<path d="M151.1 794.3 L159.3 804.3 L151.1 814.3 L142.9 804.3 Z" fill="#fff" stroke="#f4822a" stroke-width="1.8"/>
<path d="M179.6 773.1 L187.8 783.1 L179.6 793.1 L171.4 783.1 Z" fill="#fff" stroke="#f4822a" stroke-width="1.8"/>
<path d="M208.2 752.7 L216.4 762.7 L208.2 772.7 L200 762.7 Z" fill="#fff" stroke="#f4822a" stroke-width="1.8"/>
<path d="M236.7 735.5 L244.9 745.5 L236.7 755.5 L228.5 745.5 Z" fill="#fff" stroke="#f4822a" stroke-width="1.8"/>
<path d="M265.3 717.6 L273.5 727.6 L265.3 737.6 L257.1 727.6 Z" fill="#fff" stroke="#f4822a" stroke-width="1.8"/>
<path d="M293.8 707 L302 717 L293.8 727 L285.6 717 Z" fill="#fff" stroke="#f4822a" stroke-width="1.8"/>
<path d="M322.4 703.7 L330.6 713.7 L322.4 723.7 L314.2 713.7 Z" fill="#fff" stroke="#f4822a" stroke-width="1.8"/>
<path d="M108.2 836 L115.4 833 L122.5 829.7 L129.7 826.2 L136.8 822.6 L143.9 818.9 L151.1 815 L158.2 811 L165.4 807 L172.5 802.8 L179.6 798.6 L186.8 794.4 L193.9 790.2 L201 786 L208.2 781.7 L215.3 777.6 L222.4 773.4 L229.6 769.4 L236.7 765.5 L243.9 761.6 L251 757.9 L258.1 754.4 L265.3 751 L272.4 747.8 L279.6 744.7 L286.7 742 L293.8 739.4 L301 737.1 L308.1 735.1 L315.2 733.4 L322.4 731.9 L329.5 730.8 L336.6 730.1" stroke="#2b86e4" stroke-width="4.2" fill="none" stroke-linejoin="round"/>
<path d="M122.5 814.3 L130.7 824.3 L122.5 834.3 L114.3 824.3 Z" fill="#fff" stroke="#2b86e4" stroke-width="1.8"/>
<path d="M151.1 808.6 L159.3 818.6 L151.1 828.6 L142.9 818.6 Z" fill="#fff" stroke="#2b86e4" stroke-width="1.8"/>
<path d="M179.6 791.8 L187.8 801.8 L179.6 811.8 L171.4 801.8 Z" fill="#fff" stroke="#2b86e4" stroke-width="1.8"/>
<path d="M208.2 768.2 L216.4 778.2 L208.2 788.2 L200 778.2 Z" fill="#fff" stroke="#2b86e4" stroke-width="1.8"/>
<path d="M236.7 755.1 L244.9 765.1 L236.7 775.1 L228.5 765.1 Z" fill="#fff" stroke="#2b86e4" stroke-width="1.8"/>
<path d="M265.3 738.4 L273.5 748.4 L265.3 758.4 L257.1 748.4 Z" fill="#fff" stroke="#2b86e4" stroke-width="1.8"/>
<path d="M293.8 732.3 L302 742.3 L293.8 752.3 L285.6 742.3 Z" fill="#fff" stroke="#2b86e4" stroke-width="1.8"/>
<path d="M322.4 724.9 L330.6 734.9 L322.4 744.9 L314.2 734.9 Z" fill="#fff" stroke="#2b86e4" stroke-width="1.8"/>
<path d="M108.2 798.2 L115.4 791.7 L122.5 785.2 L129.7 778.5 L136.8 771.9 L143.9 765.1 L151.1 758.4 L158.2 751.7 L165.4 745 L172.5 738.3 L179.6 731.7 L186.8 725.2 L193.9 718.7 L201 712.4 L208.2 706.2 L215.3 700.1 L222.4 694.2 L229.6 688.4 L236.7 682.9 L243.9 677.6 L251 672.5 L258.1 667.6 L265.3 663 L272.4 658.7 L279.6 654.7 L286.7 651 L293.8 647.6 L301 644.6 L308.1 642 L315.2 639.7 L322.4 637.8 L329.5 636.4 L336.6 635.4" stroke="#f6c21c" stroke-width="4.2" fill="none" stroke-linejoin="round"/>
<path d="M179.6 725.9 V730.8 M177.6 725.9 h4 M177.6 730.8 h4" stroke="#f6c21c" stroke-width="1.6" fill="none"/>
<path d="M208.2 705.5 V710.4 M206.2 705.5 h4 M206.2 710.4 h4" stroke="#f6c21c" stroke-width="1.6" fill="none"/>
<path d="M236.7 680.2 V685.1 M234.7 680.2 h4 M234.7 685.1 h4" stroke="#f6c21c" stroke-width="1.6" fill="none"/>
<path d="M265.3 655.8 V672.1 M263.3 655.8 h4 M263.3 672.1 h4" stroke="#f6c21c" stroke-width="1.6" fill="none"/>
<path d="M293.8 638.6 V651.7 M291.8 638.6 h4 M291.8 651.7 h4" stroke="#f6c21c" stroke-width="1.6" fill="none"/>
<path d="M322.4 638.6 V643.5 M320.4 638.6 h4 M320.4 643.5 h4" stroke="#f6c21c" stroke-width="1.6" fill="none"/>
<rect x="115.2" y="779.4" width="14.6" height="14.6" fill="#fff" stroke="#f6c21c" stroke-width="1.8"/>
<rect x="143.8" y="752.5" width="14.6" height="14.6" fill="#fff" stroke="#f6c21c" stroke-width="1.8"/>
<rect x="172.3" y="721.1" width="14.6" height="14.6" fill="#fff" stroke="#f6c21c" stroke-width="1.8"/>
<rect x="200.9" y="700.7" width="14.6" height="14.6" fill="#fff" stroke="#f6c21c" stroke-width="1.8"/>
<rect x="229.4" y="675.4" width="14.6" height="14.6" fill="#fff" stroke="#f6c21c" stroke-width="1.8"/>
<rect x="258" y="656.6" width="14.6" height="14.6" fill="#fff" stroke="#f6c21c" stroke-width="1.8"/>
<rect x="286.5" y="637.9" width="14.6" height="14.6" fill="#fff" stroke="#f6c21c" stroke-width="1.8"/>
<rect x="315.1" y="633.8" width="14.6" height="14.6" fill="#fff" stroke="#f6c21c" stroke-width="1.8"/>
<path d="M108.2 808.3 L115.4 803.8 L122.5 799 L129.7 794 L136.8 788.9 L143.9 783.7 L151.1 778.3 L158.2 772.7 L165.4 767.1 L172.5 761.4 L179.6 755.7 L186.8 749.8 L193.9 744 L201 738.1 L208.2 732.2 L215.3 726.4 L222.4 720.6 L229.6 714.8 L236.7 709.1 L243.9 703.5 L251 697.9 L258.1 692.5 L265.3 687.2 L272.4 682.1 L279.6 677.1 L286.7 672.3 L293.8 667.7 L301 663.3 L308.1 659.2 L315.2 655.3 L322.4 651.6 L329.5 648.3 L336.6 645.2" stroke="#27c4ee" stroke-width="4.2" fill="none" stroke-linejoin="round"/>
<path d="M208.2 730 V734.9 M206.2 730 h4 M206.2 734.9 h4" stroke="#27c4ee" stroke-width="1.6" fill="none"/>
<path d="M236.7 699 V712.1 M234.7 699 h4 M234.7 712.1 h4" stroke="#27c4ee" stroke-width="1.6" fill="none"/>
<path d="M265.3 690.9 V695.8 M263.3 690.9 h4 M263.3 695.8 h4" stroke="#27c4ee" stroke-width="1.6" fill="none"/>
<path d="M293.8 658.2 V668 M291.8 658.2 h4 M291.8 668 h4" stroke="#27c4ee" stroke-width="1.6" fill="none"/>
<path d="M322.4 645.2 V663.1 M320.4 645.2 h4 M320.4 663.1 h4" stroke="#27c4ee" stroke-width="1.6" fill="none"/>
<rect x="115.2" y="788.8" width="14.6" height="14.6" fill="#fff" stroke="#27c4ee" stroke-width="1.8"/>
<rect x="143.8" y="774.1" width="14.6" height="14.6" fill="#fff" stroke="#27c4ee" stroke-width="1.8"/>
<rect x="172.3" y="747.2" width="14.6" height="14.6" fill="#fff" stroke="#27c4ee" stroke-width="1.8"/>
<rect x="200.9" y="725.2" width="14.6" height="14.6" fill="#fff" stroke="#27c4ee" stroke-width="1.8"/>
<rect x="229.4" y="698.2" width="14.6" height="14.6" fill="#fff" stroke="#27c4ee" stroke-width="1.8"/>
<rect x="258" y="686" width="14.6" height="14.6" fill="#fff" stroke="#27c4ee" stroke-width="1.8"/>
<rect x="286.5" y="655.8" width="14.6" height="14.6" fill="#fff" stroke="#27c4ee" stroke-width="1.8"/>
<rect x="315.1" y="646.8" width="14.6" height="14.6" fill="#fff" stroke="#27c4ee" stroke-width="1.8"/>
<text x="153.6" y="956.8" class="s" font-size="25" fill="#1a1a1a" textLength="161.5" lengthAdjust="spacingAndGlyphs">Eccentricity (°)</text>
<text transform="translate(35.2 822) rotate(-90)" class="s" font-size="25.5" fill="#1a1a1a" textLength="125" lengthAdjust="spacingAndGlyphs">pRF size (°)</text>
<g class="s" font-size="18.5" fill="#1e1e1e">
<text x="112.3" y="551.2" textLength="20" lengthAdjust="spacingAndGlyphs">V1</text>
<text x="163" y="551.2" textLength="21.4" lengthAdjust="spacingAndGlyphs">V2</text>
<text x="214.2" y="551.2" textLength="21" lengthAdjust="spacingAndGlyphs">V3</text>
</g>
<path d="M106.8 569.5 H145.4" stroke="#e8232b" stroke-width="2"/>
<circle cx="126.1" cy="569.5" r="7" fill="#fff" stroke="#e8232b" stroke-width="2"/>
<path d="M158.3 569.5 H196.7" stroke="#f4822a" stroke-width="2"/>
<path d="M176.8 560.2 L185.3 569.5 L176.8 578.8 L168.3 569.5 Z" fill="#fff" stroke="#f4822a" stroke-width="2"/>
<path d="M209.6 569.5 H249.5" stroke="#f6c21c" stroke-width="2"/>
<rect x="221.5" y="562.7" width="13.6" height="13.6" fill="#fff" stroke="#f6c21c" stroke-width="2"/>
<text x="252.0" y="575.5" class="s" font-size="18.5" fill="#1e1e1e" textLength="60.8" lengthAdjust="spacingAndGlyphs">Autism</text>
<path d="M106.8 595 H145.4" stroke="#2626d4" stroke-width="2"/>
<circle cx="126.1" cy="595" r="7" fill="#fff" stroke="#2626d4" stroke-width="2"/>
<path d="M158.3 595 H196.7" stroke="#2b86e4" stroke-width="2"/>
<path d="M176.8 585.7 L185.3 595 L176.8 604.3 L168.3 595 Z" fill="#fff" stroke="#2b86e4" stroke-width="2"/>
<path d="M209.6 595 H249.5" stroke="#27c4ee" stroke-width="2"/>
<rect x="221.5" y="588.2" width="13.6" height="13.6" fill="#fff" stroke="#27c4ee" stroke-width="2"/>
<text x="252.0" y="601" class="s" font-size="18.5" fill="#1e1e1e" textLength="63.0" lengthAdjust="spacingAndGlyphs">Control</text>
<g stroke="#8a8a8a" stroke-width="1.15" fill="none">
<path d="M438.5 625.7 V912.1 H725.3"/>
<path d="M438.5 912.1 h3"/>
<path d="M438.5 876.3 h3"/>
<path d="M438.5 840.5 h3"/>
<path d="M438.5 804.7 h3"/>
<path d="M438.5 768.9 h3"/>
<path d="M438.5 733.1 h3"/>
<path d="M438.5 697.3 h3"/>
<path d="M438.5 661.5 h3"/>
<path d="M438.5 625.7 h3"/>
<path d="M438.5 912.1 v-3"/>
<path d="M495.9 912.1 v-3"/>
<path d="M553.2 912.1 v-3"/>
<path d="M610.6 912.1 v-3"/>
<path d="M667.9 912.1 v-3"/>
<path d="M725.3 912.1 v-3"/>
<path d="M438.5 625.7 h3"/>
</g>
<g class="s" font-size="17" fill="#1e1e1e" text-anchor="end">
<text x="434.9" y="918.2">0</text>
<text x="434.9" y="882.4">1</text>
<text x="434.9" y="846.6">2</text>
<text x="434.9" y="810.8">3</text>
<text x="434.9" y="775">4</text>
<text x="434.9" y="739.2">5</text>
<text x="434.9" y="703.4">6</text>
<text x="434.9" y="667.6">7</text>
<text x="434.9" y="631.8">8</text>
</g>
<g class="s" font-size="17" fill="#1e1e1e" text-anchor="middle">
<text x="438.5" y="930.3">0</text>
<text x="495.9" y="930.3">2</text>
<text x="553.2" y="930.3">4</text>
<text x="610.6" y="930.3">6</text>
<text x="667.9" y="930.3">8</text>
</g>
<svg x="705.3" y="912.1" width="27.2" height="30" overflow="hidden"><text x="20" y="18.2" class="s" font-size="17" fill="#1e1e1e" text-anchor="middle">10</text></svg>
<path d="M467.2 831.1 L474.4 827.9 L481.5 824.8 L488.7 821.8 L495.9 818.9 L503 816.1 L510.2 813.5 L517.4 810.9 L524.5 808.5 L531.7 806.1 L538.9 803.9 L546 801.8 L553.2 799.7 L560.4 797.8 L567.6 795.9 L574.7 794.2 L581.9 792.5 L589.1 791 L596.2 789.5 L603.4 788.1 L610.6 786.8 L617.8 785.6 L624.9 784.4 L632.1 783.4 L639.3 782.4 L646.4 781.5 L653.6 780.7 L660.8 779.9 L667.9 779.2 L675.1 778.6 L682.3 778.1 L689.5 777.6 L696.6 777.2" stroke="#e8232b" stroke-width="4.2" fill="none" stroke-linejoin="round"/>
<circle cx="481.5" cy="821.5" r="7.2" fill="#fff" stroke="#e8232b" stroke-width="2"/>
<circle cx="510.2" cy="813.7" r="7.2" fill="#fff" stroke="#e8232b" stroke-width="2"/>
<circle cx="538.9" cy="804.7" r="7.2" fill="#fff" stroke="#e8232b" stroke-width="2"/>
<circle cx="567.6" cy="797.5" r="7.2" fill="#fff" stroke="#e8232b" stroke-width="2"/>
<circle cx="596.2" cy="788.6" r="7.2" fill="#fff" stroke="#e8232b" stroke-width="2"/>
<circle cx="624.9" cy="783.2" r="7.2" fill="#fff" stroke="#e8232b" stroke-width="2"/>
<circle cx="653.6" cy="780" r="7.2" fill="#fff" stroke="#e8232b" stroke-width="2"/>
<circle cx="682.3" cy="781.1" r="7.2" fill="#fff" stroke="#e8232b" stroke-width="2"/>
<path d="M467.2 836.2 L474.4 832.9 L481.5 829.7 L488.7 826.6 L495.9 823.5 L503 820.5 L510.2 817.6 L517.4 814.8 L524.5 812.1 L531.7 809.5 L538.9 807 L546 804.5 L553.2 802.1 L560.4 799.9 L567.6 797.7 L574.7 795.6 L581.9 793.5 L589.1 791.6 L596.2 789.8 L603.4 788 L610.6 786.4 L617.8 784.8 L624.9 783.4 L632.1 782 L639.3 780.7 L646.4 779.5 L653.6 778.4 L660.8 777.5 L667.9 776.6 L675.1 775.8 L682.3 775 L689.5 774.4 L696.6 773.9" stroke="#2626d4" stroke-width="4.2" fill="none" stroke-linejoin="round"/>
<circle cx="481.5" cy="831.2" r="7.2" fill="#fff" stroke="#2626d4" stroke-width="2"/>
<circle cx="510.2" cy="815.4" r="7.2" fill="#fff" stroke="#2626d4" stroke-width="2"/>
<circle cx="538.9" cy="806.5" r="7.2" fill="#fff" stroke="#2626d4" stroke-width="2"/>
<circle cx="567.6" cy="800" r="7.2" fill="#fff" stroke="#2626d4" stroke-width="2"/>
<circle cx="596.2" cy="790" r="7.2" fill="#fff" stroke="#2626d4" stroke-width="2"/>
<circle cx="624.9" cy="782.1" r="7.2" fill="#fff" stroke="#2626d4" stroke-width="2"/>
<circle cx="653.6" cy="777.9" r="7.2" fill="#fff" stroke="#2626d4" stroke-width="2"/>
<circle cx="682.3" cy="776.1" r="7.2" fill="#fff" stroke="#2626d4" stroke-width="2"/>
<path d="M467.2 838 L474.4 834.1 L481.5 830.1 L488.7 826.2 L495.9 822.2 L503 818.3 L510.2 814.5 L517.4 810.6 L524.5 806.8 L531.7 803 L538.9 799.3 L546 795.6 L553.2 791.9 L560.4 788.3 L567.6 784.7 L574.7 781.2 L581.9 777.7 L589.1 774.3 L596.2 770.9 L603.4 767.6 L610.6 764.4 L617.8 761.2 L624.9 758.1 L632.1 755.1 L639.3 752.1 L646.4 749.2 L653.6 746.4 L660.8 743.7 L667.9 741 L675.1 738.4 L682.3 736 L689.5 733.6 L696.6 731.3" stroke="#f4822a" stroke-width="4.2" fill="none" stroke-linejoin="round"/>
<path d="M481.5 822.6 L489.7 832.6 L481.5 842.6 L473.3 832.6 Z" fill="#fff" stroke="#f4822a" stroke-width="1.8"/>
<path d="M510.2 805.1 L518.4 815.1 L510.2 825.1 L502 815.1 Z" fill="#fff" stroke="#f4822a" stroke-width="1.8"/>
<path d="M538.9 787.2 L547.1 797.2 L538.9 807.2 L530.7 797.2 Z" fill="#fff" stroke="#f4822a" stroke-width="1.8"/>
<path d="M567.6 773.9 L575.8 783.9 L567.6 793.9 L559.4 783.9 Z" fill="#fff" stroke="#f4822a" stroke-width="1.8"/>
<path d="M596.2 762.5 L604.4 772.5 L596.2 782.5 L588 772.5 Z" fill="#fff" stroke="#f4822a" stroke-width="1.8"/>
<path d="M624.9 748.9 L633.1 758.9 L624.9 768.9 L616.7 758.9 Z" fill="#fff" stroke="#f4822a" stroke-width="1.8"/>
<path d="M653.6 736 L661.8 746 L653.6 756 L645.4 746 Z" fill="#fff" stroke="#f4822a" stroke-width="1.8"/>
<path d="M682.3 724.5 L690.5 734.5 L682.3 744.5 L674.1 734.5 Z" fill="#fff" stroke="#f4822a" stroke-width="1.8"/>
<path d="M467.2 854.1 L474.4 849.9 L481.5 845.7 L488.7 841.5 L495.9 837.3 L503 833.1 L510.2 829 L517.4 824.8 L524.5 820.7 L531.7 816.7 L538.9 812.7 L546 808.8 L553.2 805 L560.4 801.2 L567.6 797.6 L574.7 794.1 L581.9 790.6 L589.1 787.4 L596.2 784.2 L603.4 781.2 L610.6 778.4 L617.8 775.7 L624.9 773.2 L632.1 770.9 L639.3 768.8 L646.4 766.9 L653.6 765.2 L660.8 763.7 L667.9 762.4 L675.1 761.4 L682.3 760.7 L689.5 760.2 L696.6 760" stroke="#2b86e4" stroke-width="4.2" fill="none" stroke-linejoin="round"/>
<path d="M481.5 837.3 L489.7 847.3 L481.5 857.3 L473.3 847.3 Z" fill="#fff" stroke="#2b86e4" stroke-width="1.8"/>
<path d="M510.2 819 L518.4 829 L510.2 839 L502 829 Z" fill="#fff" stroke="#2b86e4" stroke-width="1.8"/>
<path d="M538.9 802.9 L547.1 812.9 L538.9 822.9 L530.7 812.9 Z" fill="#fff" stroke="#2b86e4" stroke-width="1.8"/>
<path d="M567.6 787.5 L575.8 797.5 L567.6 807.5 L559.4 797.5 Z" fill="#fff" stroke="#2b86e4" stroke-width="1.8"/>
<path d="M596.2 773.2 L604.4 783.2 L596.2 793.2 L588 783.2 Z" fill="#fff" stroke="#2b86e4" stroke-width="1.8"/>
<path d="M624.9 762.1 L633.1 772.1 L624.9 782.1 L616.7 772.1 Z" fill="#fff" stroke="#2b86e4" stroke-width="1.8"/>
<path d="M653.6 757.1 L661.8 767.1 L653.6 777.1 L645.4 767.1 Z" fill="#fff" stroke="#2b86e4" stroke-width="1.8"/>
<path d="M682.3 751.4 L690.5 761.4 L682.3 771.4 L674.1 761.4 Z" fill="#fff" stroke="#2b86e4" stroke-width="1.8"/>
<path d="M467.2 803.7 L474.4 793.1 L481.5 782.9 L488.7 773.1 L495.9 763.8 L503 754.8 L510.2 746.2 L517.4 738.1 L524.5 730.3 L531.7 722.9 L538.9 715.9 L546 709.2 L553.2 702.9 L560.4 697 L567.6 691.5 L574.7 686.3 L581.9 681.5 L589.1 677 L596.2 672.9 L603.4 669.1 L610.6 665.6 L617.8 662.5 L624.9 659.7 L632.1 657.3 L639.3 655.1 L646.4 653.3 L653.6 651.8 L660.8 650.6 L667.9 649.6 L675.1 649 L682.3 648.7 L689.5 648.7 L696.6 649" stroke="#f6c21c" stroke-width="4.2" fill="none" stroke-linejoin="round"/>
<path d="M481.5 786.4 V793.6 M479.5 786.4 h4 M479.5 793.6 h4" stroke="#f6c21c" stroke-width="1.6" fill="none"/>
<path d="M510.2 726.7 V753.9 M508.2 726.7 h4 M508.2 753.9 h4" stroke="#f6c21c" stroke-width="1.6" fill="none"/>
<path d="M538.9 698 V730.2 M536.9 698 h4 M536.9 730.2 h4" stroke="#f6c21c" stroke-width="1.6" fill="none"/>
<path d="M567.6 681.2 V713.4 M565.6 681.2 h4 M565.6 713.4 h4" stroke="#f6c21c" stroke-width="1.6" fill="none"/>
<path d="M596.2 655.1 V690.9 M594.2 655.1 h4 M594.2 690.9 h4" stroke="#f6c21c" stroke-width="1.6" fill="none"/>
<path d="M624.9 637.2 V674.4 M622.9 637.2 h4 M622.9 674.4 h4" stroke="#f6c21c" stroke-width="1.6" fill="none"/>
<path d="M653.6 639.7 V668.3 M651.6 639.7 h4 M651.6 668.3 h4" stroke="#f6c21c" stroke-width="1.6" fill="none"/>
<path d="M682.3 633.2 V661.9 M680.3 633.2 h4 M680.3 661.9 h4" stroke="#f6c21c" stroke-width="1.6" fill="none"/>
<rect x="474.2" y="782.7" width="14.6" height="14.6" fill="#fff" stroke="#f6c21c" stroke-width="1.8"/>
<rect x="502.9" y="733" width="14.6" height="14.6" fill="#fff" stroke="#f6c21c" stroke-width="1.8"/>
<rect x="531.6" y="706.8" width="14.6" height="14.6" fill="#fff" stroke="#f6c21c" stroke-width="1.8"/>
<rect x="560.3" y="690" width="14.6" height="14.6" fill="#fff" stroke="#f6c21c" stroke-width="1.8"/>
<rect x="588.9" y="665.7" width="14.6" height="14.6" fill="#fff" stroke="#f6c21c" stroke-width="1.8"/>
<rect x="617.6" y="648.5" width="14.6" height="14.6" fill="#fff" stroke="#f6c21c" stroke-width="1.8"/>
<rect x="646.3" y="646.7" width="14.6" height="14.6" fill="#fff" stroke="#f6c21c" stroke-width="1.8"/>
<rect x="675" y="640.2" width="14.6" height="14.6" fill="#fff" stroke="#f6c21c" stroke-width="1.8"/>
<path d="M467.2 811.3 L474.4 805.3 L481.5 799.4 L488.7 793.5 L495.9 787.7 L503 782 L510.2 776.3 L517.4 770.7 L524.5 765.2 L531.7 759.7 L538.9 754.4 L546 749.1 L553.2 743.9 L560.4 738.8 L567.6 733.8 L574.7 728.9 L581.9 724.1 L589.1 719.4 L596.2 714.8 L603.4 710.4 L610.6 706.1 L617.8 701.8 L624.9 697.8 L632.1 693.8 L639.3 690 L646.4 686.3 L653.6 682.8 L660.8 679.5 L667.9 676.2 L675.1 673.2 L682.3 670.3 L689.5 667.6 L696.6 665" stroke="#27c4ee" stroke-width="4.2" fill="none" stroke-linejoin="round"/>
<path d="M596.2 715.9 V719.5 M594.2 715.9 h4 M594.2 719.5 h4" stroke="#27c4ee" stroke-width="1.6" fill="none"/>
<path d="M624.9 689.4 V710.9 M622.9 689.4 h4 M622.9 710.9 h4" stroke="#27c4ee" stroke-width="1.6" fill="none"/>
<path d="M653.6 667.9 V698 M651.6 667.9 h4 M651.6 698 h4" stroke="#27c4ee" stroke-width="1.6" fill="none"/>
<path d="M682.3 647.9 V683.7 M680.3 647.9 h4 M680.3 683.7 h4" stroke="#27c4ee" stroke-width="1.6" fill="none"/>
<rect x="474.2" y="797.4" width="14.6" height="14.6" fill="#fff" stroke="#27c4ee" stroke-width="1.8"/>
<rect x="502.9" y="770.6" width="14.6" height="14.6" fill="#fff" stroke="#27c4ee" stroke-width="1.8"/>
<rect x="531.6" y="744.1" width="14.6" height="14.6" fill="#fff" stroke="#27c4ee" stroke-width="1.8"/>
<rect x="560.3" y="722.9" width="14.6" height="14.6" fill="#fff" stroke="#27c4ee" stroke-width="1.8"/>
<rect x="588.9" y="710.4" width="14.6" height="14.6" fill="#fff" stroke="#27c4ee" stroke-width="1.8"/>
<rect x="617.6" y="692.9" width="14.6" height="14.6" fill="#fff" stroke="#27c4ee" stroke-width="1.8"/>
<rect x="646.3" y="675.7" width="14.6" height="14.6" fill="#fff" stroke="#27c4ee" stroke-width="1.8"/>
<rect x="675" y="658.5" width="14.6" height="14.6" fill="#fff" stroke="#27c4ee" stroke-width="1.8"/>
<text x="511.6" y="966.6" class="s" font-size="25" fill="#1a1a1a" textLength="161" lengthAdjust="spacingAndGlyphs">Eccentricity (°)</text>
<text transform="translate(393.2 822) rotate(-90)" class="s" font-size="25.5" fill="#1a1a1a" textLength="119.6" lengthAdjust="spacingAndGlyphs">pRF size (°)</text>
<g class="s" font-size="18.5" fill="#1e1e1e">
<text x="467.6" y="557.2" textLength="33.7" lengthAdjust="spacingAndGlyphs">V3A</text>
<text x="519.8" y="557.2" textLength="21.5" lengthAdjust="spacingAndGlyphs">V4</text>
<text x="571.8" y="557.2" textLength="36.8" lengthAdjust="spacingAndGlyphs">MT+</text>
</g>
<path d="M463.5 575.8 H501.9" stroke="#e8232b" stroke-width="2"/>
<circle cx="482" cy="575.8" r="6" fill="#fff" stroke="#e8232b" stroke-width="2"/>
<path d="M515.7 575.8 H553.2" stroke="#f4822a" stroke-width="2"/>
<path d="M534.3 566.5 L542.8 575.8 L534.3 585.1 L525.8 575.8 Z" fill="#fff" stroke="#f4822a" stroke-width="2"/>
<path d="M566 575.8 H605.4" stroke="#f6c21c" stroke-width="2"/>
<rect x="579.4" y="569" width="13.6" height="13.6" fill="#fff" stroke="#f6c21c" stroke-width="2"/>
<text x="608.8" y="581.8" class="s" font-size="18.5" fill="#1e1e1e" textLength="61.2" lengthAdjust="spacingAndGlyphs">Autism</text>
<path d="M463.5 602.1 H501.9" stroke="#2626d4" stroke-width="2"/>
<circle cx="482" cy="602.1" r="6" fill="#fff" stroke="#2626d4" stroke-width="2"/>
<path d="M515.7 602.1 H553.2" stroke="#2b86e4" stroke-width="2"/>
<path d="M534.3 592.8 L542.8 602.1 L534.3 611.4 L525.8 602.1 Z" fill="#fff" stroke="#2b86e4" stroke-width="2"/>
<path d="M566 602.1 H605.4" stroke="#27c4ee" stroke-width="2"/>
<rect x="579.4" y="595.3" width="13.6" height="13.6" fill="#fff" stroke="#27c4ee" stroke-width="2"/>
<text x="608.6" y="608.1" class="s" font-size="18.5" fill="#1e1e1e" textLength="63.6" lengthAdjust="spacingAndGlyphs">Control</text>
</svg>
<div style="position:absolute;left:64px;top:122px;width:32px;height:63px;border-radius:32px 0 0 32px;background:conic-gradient(from 0deg at 100% 50%, #ff0000 0deg, #0000ff 180deg, #0010e0 210deg, #0a5a9a 235deg, #1a9a70 252deg, #48f060 264deg, #50ff50 270deg, #58d040 277deg, #6e9020 290deg, #9a5a14 308deg, #c82a10 328deg, #ff0000 350deg, #ff0000 360deg)"></div>
</body></html>
